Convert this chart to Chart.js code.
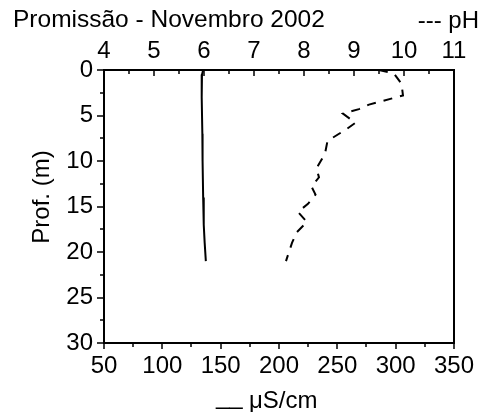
<!DOCTYPE html>
<html>
<head>
<meta charset="utf-8">
<script src="https://cdn.jsdelivr.net/npm/chart.js@4.4.0/dist/chart.umd.min.js"></script>
<style>
html,body{margin:0;padding:0;background:#fff;}
#wrap{width:483px;height:412px;position:relative;}
</style>
</head>
<body>
<div id="wrap"><canvas id="c"></canvas></div>
<script>
// Conductivity profile (µS/cm) vs depth (m)
const condDepth  = [0, 0.5, 1.5, 3, 7, 10, 14, 17, 19, 21];
const condValues = [135, 134, 133.5, 134, 134.3, 134.5, 135, 135.5, 136.3, 137.3];
// pH profile vs depth (m)
const phDepth  = [0, 0.4, 1.5, 2.8, 3.8, 4.3, 4.8, 5.8, 6.5, 7.8, 9.2, 10.8, 11.8, 12.8, 13.7, 14.7, 15.6, 16.7, 17.8, 19.0, 20.0, 21.0];
const phValues = [9.5, 9.8, 9.95, 9.98, 9.3, 9.1, 8.78, 9.03, 8.85, 8.47, 8.42, 8.25, 8.3, 8.15, 8.23, 8.08, 7.88, 8.06, 7.86, 7.76, 7.7, 7.64];
// Axis ticks
const condTicks = [50, 100, 150, 200, 250, 300, 350];
const phTicks = [4, 5, 6, 7, 8, 9, 10, 11];
const depthTicks = [0, 5, 10, 15, 20, 25, 30];

const titleText = 'Promissão - Novembro 2002';
const phLegend = '--- pH';
const condLegend = 'μS/cm';
const depthTitle = 'Prof. (m)';

const FONT = "'Liberation Sans', Arial, sans-serif";

const condData = condDepth.map((d, i) => ({x: condValues[i], y: d}));
const phData = phDepth.map((d, i) => ({x: phValues[i], y: d}));

const decor = {
  id: 'decor',
  afterDraw(chart) {
    const ctx = chart.ctx;
    const a = chart.chartArea;
    const sx = chart.scales.x, sx2 = chart.scales.x2, sy = chart.scales.y;
    ctx.save();
    ctx.strokeStyle = '#000';
    ctx.lineWidth = 1.5;
    ctx.beginPath();
    // bottom ticks (outward)
    for (let v = condTicks[0]; v <= condTicks[condTicks.length-1]; v += 25) {
      const px = Math.round(sx.getPixelForValue(v));
      const major = condTicks.includes(v);
      ctx.moveTo(px, a.bottom); ctx.lineTo(px, a.bottom + (major ? 6 : 4));
    }
    // top ticks (inward)
    for (let v = phTicks[0]; v <= phTicks[phTicks.length-1] + 1e-9; v += 0.5) {
      const px = Math.round(sx2.getPixelForValue(v));
      const major = Math.abs(v - Math.round(v)) < 1e-9;
      ctx.moveTo(px, a.top); ctx.lineTo(px, a.top + (major ? 6 : 4));
    }
    // left ticks (outward)
    for (let v = depthTicks[0]; v <= depthTicks[depthTicks.length-1]; v += 2.5) {
      const py = Math.round(sy.getPixelForValue(v));
      const major = depthTicks.includes(v);
      ctx.moveTo(a.left, py); ctx.lineTo(a.left - (major ? 7 : 4), py);
    }
    ctx.stroke();

    ctx.fillStyle = '#000';
    ctx.font = '24.5px ' + FONT;
    ctx.textBaseline = 'alphabetic';
    ctx.textAlign = 'left';
    ctx.fillText(titleText, 13, 27);
    ctx.font = '24px ' + FONT;
    ctx.textAlign = 'right';
    ctx.fillText(phLegend, 479, 28);
    ctx.textAlign = 'left';
    ctx.fillText('__', 216, 404);
    ctx.fillText(condLegend, 249, 408);
    ctx.translate(42, 197);
    ctx.rotate(-Math.PI / 2);
    ctx.textAlign = 'center';
    ctx.textBaseline = 'middle';
    ctx.fillText(depthTitle, 0, 0);
    ctx.restore();
  }
};

const tickFont = {family: FONT, size: 24};

new Chart(document.getElementById('c'), {
  type: 'scatter',
  data: {
    datasets: [
      {
        label: 'µS/cm', data: condData, xAxisID: 'x', yAxisID: 'y',
        showLine: true, borderColor: '#000', borderWidth: 2, pointRadius: 0, fill: false, tension: 0
      },
      {
        label: 'pH', data: phData, xAxisID: 'x2', yAxisID: 'y',
        showLine: true, borderColor: '#000', borderWidth: 2, borderDash: [9, 8], pointRadius: 0, fill: false, tension: 0
      }
    ]
  },
  options: {
    responsive: true, maintainAspectRatio: false, animation: false,
    layout: {padding: 0},
    plugins: {legend: {display: false}, tooltip: {enabled: false}, title: {display: false}},
    scales: {
      x: {
        type: 'linear', position: 'bottom', min: 50, max: 350,
        afterBuildTicks: s => { s.ticks = condTicks.map(v => ({value: v})); },
        ticks: {font: tickFont, color: '#000', padding: 9, autoSkip: false, maxRotation: 0},
        grid: {display: false, drawTicks: false},
        border: {display: true, color: '#000', width: 2},
        afterFit: s => { s.height = 69; }
      },
      x2: {
        type: 'linear', position: 'top', min: 4, max: 11,
        afterBuildTicks: s => { s.ticks = phTicks.map(v => ({value: v})); },
        ticks: {font: tickFont, color: '#000', padding: 4, autoSkip: false, maxRotation: 0},
        grid: {display: false, drawTicks: false},
        border: {display: true, color: '#000', width: 2},
        afterFit: s => { s.height = 70; }
      },
      y: {
        type: 'linear', position: 'left', reverse: true, min: 0, max: 30,
        afterBuildTicks: s => { s.ticks = depthTicks.map(v => ({value: v})); },
        ticks: {font: tickFont, color: '#000', padding: 11, autoSkip: false},
        grid: {display: false, drawTicks: false},
        border: {display: true, color: '#000', width: 2},
        afterFit: s => { s.width = 104; }
      },
      y2: {
        type: 'linear', position: 'right', min: 0, max: 30,
        ticks: {display: false},
        grid: {display: false, drawTicks: false},
        border: {display: true, color: '#000', width: 2},
        afterFit: s => { s.width = 27; }
      }
    }
  },
  plugins: [decor]
});
</script>
</body>
</html>
